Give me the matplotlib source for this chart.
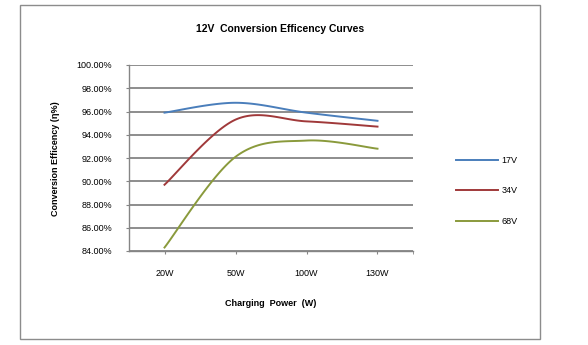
import numpy as np
import matplotlib.pyplot as plt
from matplotlib.patches import Rectangle

# データ
categories = ["20W", "50W", "100W", "130W"]
v17 = [95.9, 96.75, 95.9, 95.2]
v34 = [89.7, 95.3, 95.15, 94.7]
v68 = [84.3, 92.1, 93.5, 92.8]
series_names = ["17V", "34V", "68V"]
colors = ["#4A7EBB", "#A0393A", "#8A9A3C"]


def excel_smooth(x, y, n=40):
    """Excel風のスムージング線（ベジェ曲線）"""
    x = np.asarray(x, float)
    y = np.asarray(y, float)
    px = np.concatenate([[x[0]], x, [x[-1]]])
    py = np.concatenate([[y[0]], y, [y[-1]]])
    xs, ys = [], []
    t = np.linspace(0, 1, n)
    for i in range(len(x) - 1):
        p0 = np.array([px[i + 1], py[i + 1]])
        p3 = np.array([px[i + 2], py[i + 2]])
        p1 = p0 + (np.array([px[i + 2], py[i + 2]]) - np.array([px[i], py[i]])) / 6
        p2 = p3 - (np.array([px[i + 3], py[i + 3]]) - np.array([px[i + 1], py[i + 1]])) / 6
        b = ((1 - t) ** 3)[:, None] * p0 + (3 * (1 - t) ** 2 * t)[:, None] * p1 \
            + (3 * (1 - t) * t ** 2)[:, None] * p2 + (t ** 3)[:, None] * p3
        xs.append(b[:, 0])
        ys.append(b[:, 1])
    return np.concatenate(xs), np.concatenate(ys)


plt.rcParams["font.family"] = ["Liberation Sans", "DejaVu Sans"]

W, H = 588, 345
fig = plt.figure(figsize=(5.88, 3.45), dpi=100)
fig.patches.append(Rectangle((19.5 / W, 1 - 339 / H), 520.5 / W, 334.5 / H,
                             transform=fig.transFigure, fill=False,
                             edgecolor="#8c8c8c", linewidth=1.0))

ax = fig.add_axes([129 / W, 1 - 251 / H, 284 / W, 186 / H])
xpos = np.arange(len(categories))
for vals, name, c in zip([v17, v34, v68], series_names, colors):
    sx, sy = excel_smooth(xpos, vals)
    ax.plot(sx, sy, color=c, linewidth=1.4, label=name)

ax.set_xlim(-0.5, 3.5)
ax.set_ylim(84, 100)
ax.set_yticks(np.arange(84, 100.1, 2))
ax.set_yticklabels([f"{v:.2f}%" for v in np.arange(84, 100.1, 2)], fontsize=6.5)
ax.set_xticks(xpos)
ax.set_xticklabels(categories, fontsize=6.5)
ax.set_xticks([3.5], minor=True)
ax.grid(axis="y", color="#858585", linewidth=1.3)
ax.set_axisbelow(True)
for s in ["top", "right"]:
    ax.spines[s].set_visible(False)
for s in ["left", "bottom"]:
    ax.spines[s].set_color("#858585")
    ax.spines[s].set_linewidth(1.0)
ax.tick_params(axis="y", length=2.5, color="#858585", pad=9.5)
ax.tick_params(axis="x", which="both", length=2.2, color="#858585", pad=11)

fig.text(280 / W, 1 - 28.7 / H, "12V  Conversion Efficency Curves",
         ha="center", va="center", fontsize=7.5, fontweight="bold")
fig.text(271 / W, 1 - 303 / H, "Charging  Power  (W)",
         ha="center", va="center", fontsize=6.5, fontweight="bold")
fig.text(55.5 / W, 1 - 158.6 / H, "Conversion Efficency (η%)", rotation=90,
         ha="center", va="center", fontsize=6.5, fontweight="bold")

fig.legend(loc="center left", bbox_to_anchor=(448 / W, 1 - 191 / H),
           frameon=False, fontsize=6.5, handlelength=4.6, labelspacing=2.35,
           handletextpad=0.4)

fig.savefig("out.png", dpi=100)
